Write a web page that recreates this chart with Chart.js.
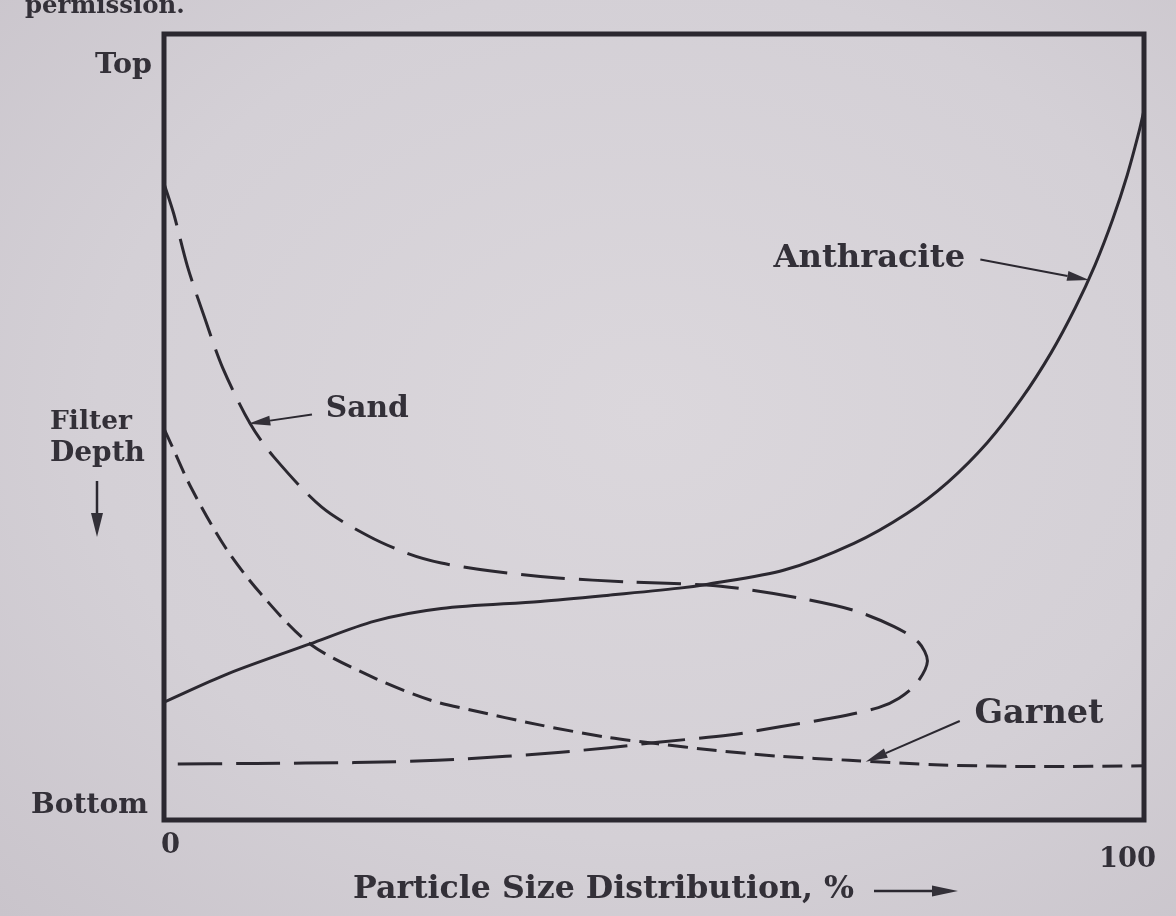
<!DOCTYPE html>
<html>
<head>
<meta charset="utf-8">
<title>Filter Depth vs Particle Size Distribution</title>
<script src="https://cdn.jsdelivr.net/npm/chart.js@4.4.1/dist/chart.umd.min.js"></script>
<style>
  html, body { margin: 0; padding: 0; }
  body { background: radial-gradient(ellipse at 55% 45%, #dbd7dc 0%, #d4d0d6 60%, #c9c4cb 100%); }
  #wrap { position: relative; width: 1176px; height: 916px; overflow: hidden; }
  canvas { display: block; }
</style>
</head>
<body>
<div id="wrap"><canvas id="depthChart" width="1176" height="916"></canvas></div>
<script>
// ===== DATA (x = particle size distribution %, y = filter depth %, 0 = top) =====
const anthraciteSize  = [0, 6.5, 14.9, 21.5, 28.3, 38.4, 45.4, 52.6, 55.5, 63.3, 70.4, 75.8, 80, 84, 87.5, 90.5, 93, 95, 96.8, 98.3, 99.5, 100];
const anthraciteDepth = [85, 81.4, 77.6, 74.7, 73.1, 72.2, 71.4, 70.5, 70.0, 68.2, 64.8, 61.0, 57.0, 52.0, 46.4, 40.6, 34.8, 29.4, 23.6, 17.9, 12.4, 9.7];

// sand curves back on itself, so points stay in drawing order
const sandSize  = [0, 1.0, 2.4, 4.2, 6.0, 8.8, 11.2, 16.1, 20.9, 24.9, 28.3, 33.2, 40.2, 47.3, 55.3, 59.7, 65.0, 70.3, 74.5, 77.0, 77.9, 76.8, 75.0, 72.9, 68.3, 63.0, 57.7, 50.4, 45.4, 40.2, 34.9, 27.9, 19.4, 9.4, 0];
const sandDepth = [19, 22.9, 29.6, 36.3, 42.5, 49.6, 53.8, 60.2, 63.9, 66.1, 67.3, 68.3, 69.2, 69.7, 70.1, 70.7, 71.8, 73.3, 75.4, 77.4, 79.8, 82.6, 84.5, 85.7, 87.0, 88.1, 89.2, 90.1, 90.8, 91.4, 91.9, 92.4, 92.7, 92.8, 92.9];

const garnetSize  = [0, 0.7, 2.8, 6.3, 9.8, 14.9, 21.6, 27.3, 31.3, 38.3, 45.3, 50.4, 55.9, 62.9, 69.9, 79.3, 89.3, 100];
const garnetDepth = [50.2, 52.1, 57.8, 65.4, 71.1, 77.6, 82.0, 84.8, 86.0, 87.9, 89.5, 90.3, 91.1, 91.9, 92.4, 93.0, 93.2, 93.1];

const depthTickLabels = ['Top', 'Bottom'];
const sizeTickLabels = ['0', '100'];

// ===== STYLE =====
const INK = '#2b2830';
const TEXT_INK = '#333038';
const SERIF = '"DejaVu Serif", "Liberation Serif", serif';

// callout text + arrow, placed in data units
const callouts = [
  { text: 'Anthracite', at: [62.2, 28.6], width: 192, tail: [83.3, 28.7], tip: [94.4, 31.3] },
  { text: 'Sand',       at: [16.5, 47.8], width: 83,  tail: [15.1, 48.4], tip: [8.6, 49.6] },
  { text: 'Garnet',     at: [82.7, 86.6], width: 129, tail: [81.2, 87.4], tip: [71.6, 92.6] }
];

function toPoints(xs, ys) {
    return xs.map((v, i) => ({ x: v, y: ys[i] }));
}

// pick a font size so the text spans the given width
function fitFont(ctx, text, width) {
    ctx.font = `bold 30px ${SERIF}`;
    const w = ctx.measureText(text).width;
    return `bold ${(30 * width / w).toFixed(1)}px ${SERIF}`;
}

function drawArrow(ctx, x1, y1, x2, y2, headLen, headW) {
    const ang = Math.atan2(y2 - y1, x2 - x1);
    const bx = x2 - Math.cos(ang) * headLen;
    const by = y2 - Math.sin(ang) * headLen;
    ctx.beginPath();
    ctx.moveTo(x1, y1);
    ctx.lineTo(bx, by);
    ctx.stroke();
    ctx.beginPath();
    ctx.moveTo(x2, y2);
    ctx.lineTo(bx + Math.sin(ang) * headW / 2, by - Math.cos(ang) * headW / 2);
    ctx.lineTo(bx - Math.sin(ang) * headW / 2, by + Math.cos(ang) * headW / 2);
    ctx.closePath();
    ctx.fill();
}

// ===== FRAME, AXIS TEXT AND CALLOUTS =====
const filterLabels = {
    id: 'filterLabels',
    afterDraw(chart) {
        const { ctx, chartArea: a, scales: { x, y } } = chart;
        ctx.save();

        // box around the plot
        ctx.strokeStyle = INK;
        ctx.lineWidth = 5;
        ctx.strokeRect(a.left, a.top, a.right - a.left, a.bottom - a.top);

        ctx.fillStyle = TEXT_INK;
        ctx.strokeStyle = INK;

        // running text cut off at the page top
        ctx.textAlign = 'left';
        ctx.textBaseline = 'alphabetic';
        ctx.font = fitFont(ctx, 'permission.', 160);
        ctx.fillText('permission.', 25, 13);

        // depth ends
        ctx.textBaseline = 'middle';
        ctx.textAlign = 'right';
        ctx.font = fitFont(ctx, depthTickLabels[0], 57);
        ctx.fillText(depthTickLabels[0], a.left - 12, y.getPixelForValue(0) + 32);
        ctx.font = fitFont(ctx, depthTickLabels[1], 117);
        ctx.fillText(depthTickLabels[1], a.left - 16, y.getPixelForValue(100) - 14);

        // y title with down arrow
        ctx.textAlign = 'left';
        ctx.font = fitFont(ctx, 'Filter', 82);
        ctx.fillText('Filter', 50, 422);
        ctx.font = fitFont(ctx, 'Depth', 95);
        ctx.fillText('Depth', 50, 454);
        ctx.lineWidth = 2.5;
        drawArrow(ctx, 97, 481, 97, 537, 24, 12);

        // size ends
        ctx.font = fitFont(ctx, '100', 57);
        ctx.textAlign = 'left';
        ctx.fillText(sizeTickLabels[0], x.getPixelForValue(0) - 3, a.bottom + 26);
        ctx.textAlign = 'right';
        ctx.fillText(sizeTickLabels[1], x.getPixelForValue(100) + 12, a.bottom + 40);

        // x title with right arrow
        const title = 'Particle Size Distribution, %';
        ctx.textAlign = 'left';
        ctx.textBaseline = 'alphabetic';
        ctx.font = fitFont(ctx, title, 501);
        ctx.fillText(title, 353, 898);
        ctx.lineWidth = 2.5;
        drawArrow(ctx, 874, 891, 958, 891, 26, 11);

        // curve callouts
        ctx.textBaseline = 'middle';
        callouts.forEach(c => {
            ctx.textAlign = 'left';
            ctx.font = fitFont(ctx, c.text, c.width);
            ctx.fillText(c.text, x.getPixelForValue(c.at[0]), y.getPixelForValue(c.at[1]));
            ctx.lineWidth = 2;
            drawArrow(ctx,
                x.getPixelForValue(c.tail[0]), y.getPixelForValue(c.tail[1]),
                x.getPixelForValue(c.tip[0]), y.getPixelForValue(c.tip[1]),
                22, 10);
        });

        ctx.restore();
    }
};

// ===== CHART =====
const curveStyle = {
    showLine: true,
    pointRadius: 0,
    borderColor: INK,
    borderWidth: 3,
    tension: 0.3,
    fill: false
};

new Chart(document.getElementById('depthChart'), {
    type: 'scatter',
    data: {
        datasets: [
            { ...curveStyle, label: 'Anthracite', data: toPoints(anthraciteSize, anthraciteDepth) },
            { ...curveStyle, label: 'Sand', data: toPoints(sandSize, sandDepth), borderDash: [44, 14] },
            { ...curveStyle, label: 'Garnet', data: toPoints(garnetSize, garnetDepth), borderDash: [20, 9] }
        ]
    },
    options: {
        responsive: false,
        animation: false,
        layout: { padding: { left: 164, right: 32, top: 34, bottom: 96 } },
        scales: {
            x: { type: 'linear', min: 0, max: 100, display: false },
            y: { type: 'linear', min: 0, max: 100, reverse: true, display: false }
        },
        plugins: {
            legend: { display: false },
            tooltip: { enabled: false }
        }
    },
    plugins: [filterLabels]
});
</script>
</body>
</html>
